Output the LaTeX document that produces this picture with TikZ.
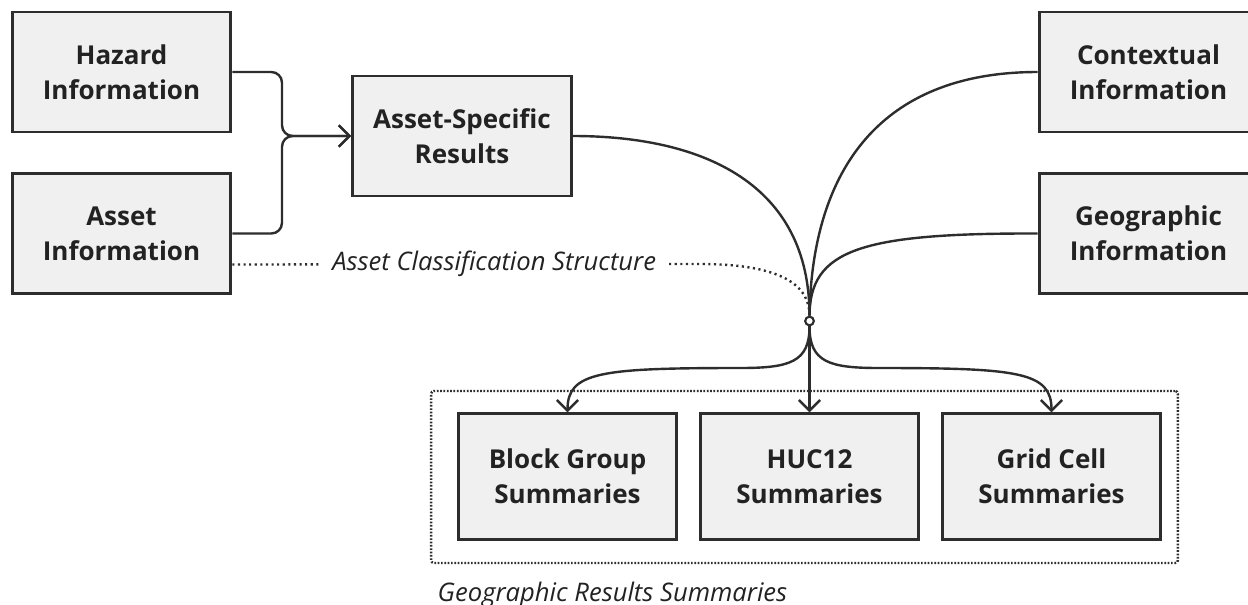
\documentclass[tikz,border=0pt]{standalone}
\usepackage{fontspec}
\setmainfont{Open Sans}
\usetikzlibrary{arrows.meta,positioning,calc}
\definecolor{boxfill}{RGB}{240,240,240}
\definecolor{linedark}{RGB}{45,45,45}
\definecolor{textdark}{RGB}{34,34,34}
\tikzset{
    % Boxes
    infobox/.style={
        rectangle,
        draw=linedark,
        line width=2.2pt,
        fill=boxfill,
        minimum width=164pt,
        minimum height=90pt,
        inner sep=0pt,
        align=center,
        text=textdark,
        font=\fontsize{19.5}{26.5}\selectfont\bfseries
    },
    sumbox/.style={
        infobox,
        minimum height=94pt
    },
    % Grouping
    groupbox/.style={
        rectangle,
        draw=linedark,
        line width=1.8pt,
        dash pattern=on 1.3pt off 1.2pt,
        rounded corners=2pt,
        minimum width=560pt,
        minimum height=129pt
    },
    hub/.style={
        circle,
        draw=linedark,
        line width=1.6pt,
        fill=white,
        minimum size=6.5pt,
        inner sep=0pt
    },
    % Connectors
    link/.style={
        draw=linedark,
        line width=1.8pt
    },
    arrow/.style={
        link,
        -{Straight Barb[length=8pt,width=16pt]}
    },
    dotlink/.style={
        draw=linedark,
        line width=1.8pt,
        dash pattern=on 1.6pt off 2.6pt
    },
    % Labels
    caption/.style={
        font=\fontsize{19.2}{25}\selectfont\itshape,
        text=textdark
    }
}

\begin{document}
\begin{tikzpicture}[x=0.75pt, y=-0.75pt]

    \useasboundingbox (0,0) rectangle (1248,604);

    % Inputs
    \node[infobox] (hazard) at (121.5,72) {Hazard\\Information};
    \node[infobox] (asset) at (121.5,233.5) {Asset\\Information};
    \node[infobox] (results) at (462,136) {Asset-Specific\\Results};
    \node[infobox] (context) at (1148.5,72) {Contextual\\Information};
    \node[infobox] (geo) at (1148.5,233.5) {Geographic\\Information};

    % Junction
    \node[hub] (junction) at (809.5,321) {};

    % Geographic summaries
    \node[groupbox] (group) at (804.5,477) {};
    \node[sumbox] (blockgroup) at (567.5,476.5) {Block Group\\Summaries};
    \node[sumbox] (huc) at (809.5,476.5) {HUC12\\Summaries};
    \node[sumbox] (grid) at (1051.5,476.5) {Grid Cell\\Summaries};
    \node[caption, anchor=base west] (groupcap) at (433,601) {Geographic Results Summaries};

    % Arrows - inputs to results
    \draw[arrow, rounded corners=8pt] (hazard.east) -| (282,136) -- (results.west);
    \draw[arrow, rounded corners=8pt] (asset.east) -| (282,136) -- (results.west);

    % Curves into junction
    \draw[link] (results.east) .. controls (705,136) and (809.5,185) .. (junction.north);
    \draw[link] (context.west) .. controls (880,72) and (812,170) .. (junction.north);
    \draw[link] (geo.west) .. controls (860,233) and (810,250) .. (junction.north);
    \draw[dotlink] ($(asset.east)+(0,31)$) -- node[caption, pos=0.56, fill=white, inner xsep=10pt] (classlabel) {Asset Classification Structure} (700,264) .. controls (790,264) and (809.5,290) .. (junction.north);

    % Arrows - junction to summaries
    \draw[arrow] (junction.south) -- (huc.north);
    \draw[arrow] (junction.south) .. controls (809.5,362) and (790,368) .. (740,368) .. controls (600,368) and (567.5,372) .. (blockgroup.north);
    \draw[arrow] (junction.south) .. controls (809.5,362) and (829,368) .. (879,368) .. controls (1019,368) and (1051.5,372) .. (grid.north);

\end{tikzpicture}
\end{document}
